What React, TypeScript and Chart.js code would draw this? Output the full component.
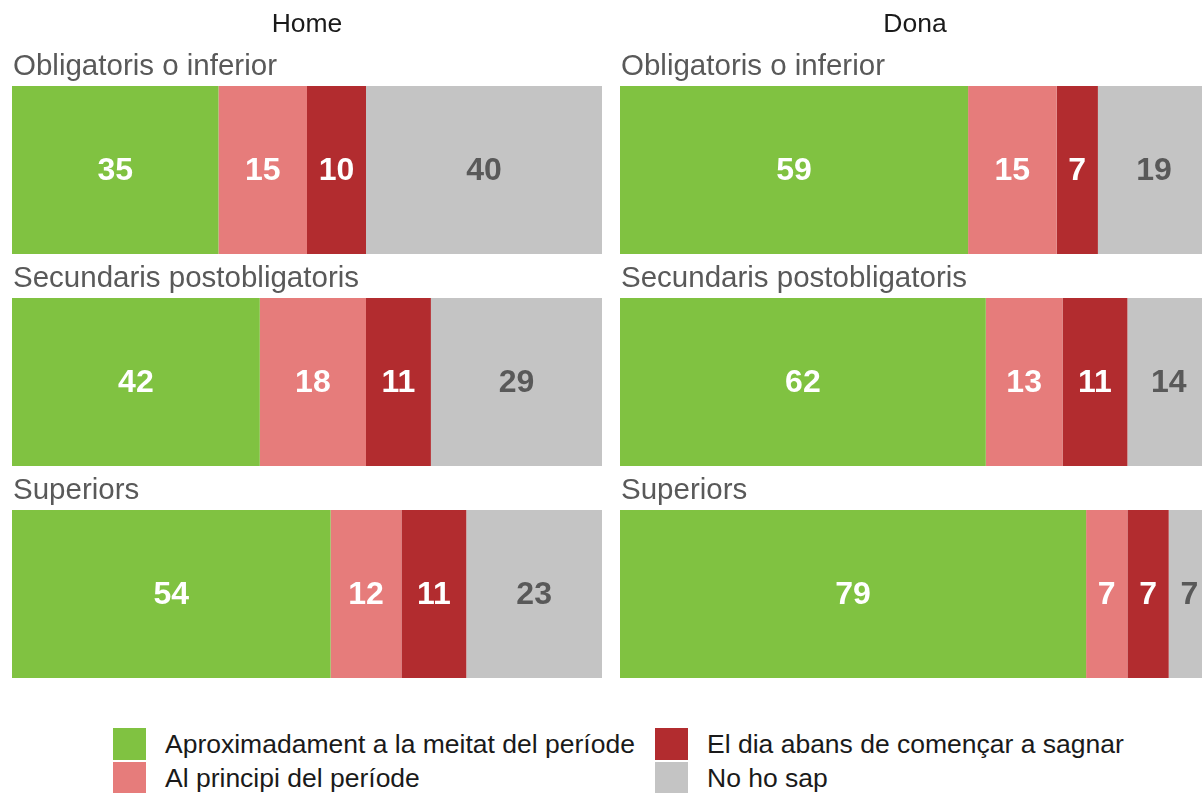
import React, { useEffect, useRef } from "react";
import { Chart, registerables } from "chart.js";

Chart.register(...registerables);

const FONT = "'Liberation Sans', Arial, Helvetica, sans-serif";

const categories = ["Obligatoris o inferior", "Secundaris postobligatoris", "Superiors"];
const seriesNames = [
  "Aproximadament a la meitat del període",
  "Al principi del període",
  "El dia abans de començar a sagnar",
  "No ho sap",
];
const seriesColors = ["#80C241", "#E67C7B", "#B22C2F", "#C4C4C4"];
const labelColors = ["#FFFFFF", "#FFFFFF", "#FFFFFF", "#595959"];

const homeMeitat = [35, 42, 54];
const homePrincipi = [15, 18, 12];
const homeDiaAbans = [10, 11, 11];
const homeNoSap = [40, 29, 23];

const donaMeitat = [59, 62, 79];
const donaPrincipi = [15, 13, 7];
const donaDiaAbans = [7, 11, 7];
const donaNoSap = [19, 14, 7];

const panelTitles = ["Home", "Dona"];

const PANEL_W = 590;
const PANEL_H = 700;

function Panel({ title, series, left }: { title: string; series: number[][]; left: number }) {
  const ref = useRef<HTMLCanvasElement | null>(null);
  useEffect(() => {
    if (!ref.current) return;
    const labelPlugin = {
      id: "panelLabels",
      afterDatasetsDraw(chart: any) {
        const ctx = chart.ctx as CanvasRenderingContext2D;
        ctx.save();
        // title
        ctx.fillStyle = "#1A1A1A";
        ctx.font = `26.5px ${FONT}`;
        ctx.textAlign = "center";
        ctx.textBaseline = "alphabetic";
        ctx.fillText(title, chart.chartArea.left + (chart.chartArea.right - chart.chartArea.left) / 2, 31.5);
        // category labels
        const meta0 = chart.getDatasetMeta(0);
        ctx.font = `29.5px ${FONT}`;
        ctx.fillStyle = "#595959";
        ctx.textAlign = "left";
        meta0.data.forEach((el: any, i: number) => {
          const top = el.y - el.height / 2;
          ctx.fillText(categories[i], chart.chartArea.left + 1, top - 11);
        });
        // value labels
        ctx.font = `bold 32px ${FONT}`;
        ctx.textAlign = "center";
        ctx.textBaseline = "middle";
        chart.data.datasets.forEach((ds: any, di: number) => {
          const meta = chart.getDatasetMeta(di);
          meta.data.forEach((el: any, i: number) => {
            const cx = (el.x + el.base) / 2;
            ctx.fillStyle = labelColors[di];
            ctx.fillText(String(ds.data[i]), cx, el.y + 1);
          });
        });
        ctx.restore();
      },
    };
    const chart = new Chart(ref.current, {
      type: "bar",
      data: {
        labels: categories,
        datasets: series.map((d, i) => ({
          label: seriesNames[i],
          data: d,
          backgroundColor: seriesColors[i],
          borderWidth: 0,
          barPercentage: 0.792,
          categoryPercentage: 1,
        })),
      },
      options: {
        indexAxis: "y",
        responsive: false,
        animation: false,
        layout: { padding: { top: 64, left: 0, right: 0, bottom: 0 } },
        scales: {
          x: { stacked: true, min: 0, max: 100, display: false },
          y: { stacked: true, display: false },
        },
        plugins: {
          legend: { display: false },
          tooltip: { enabled: false },
          title: { display: false },
        },
      },
      plugins: [labelPlugin],
    } as any);
    return () => chart.destroy();
  }, [title, series]);
  return (
    <canvas
      ref={ref}
      width={PANEL_W}
      height={PANEL_H}
      style={{ position: "absolute", left, top: 0, width: PANEL_W, height: PANEL_H }}
    />
  );
}

function LegendItem({ color, text, left, top }: { color: string; text: string; left: number; top: number }) {
  return (
    <div style={{ position: "absolute", left, top, height: 32, display: "flex", alignItems: "center" }}>
      <div style={{ width: 33, height: 32, background: color, flex: "none" }} />
      <span style={{ marginLeft: 19, font: `26.5px ${FONT}`, color: "#1A1A1A", whiteSpace: "nowrap" }}>{text}</span>
    </div>
  );
}

export default function App() {
  return (
    <div
      style={{
        position: "fixed",
        left: 0,
        top: 0,
        width: 1202,
        height: 793,
        overflow: "hidden",
        background: "#FFFFFF",
      }}
    >
      <Panel title={panelTitles[0]} series={[homeMeitat, homePrincipi, homeDiaAbans, homeNoSap]} left={12} />
      <Panel title={panelTitles[1]} series={[donaMeitat, donaPrincipi, donaDiaAbans, donaNoSap]} left={620} />
      <LegendItem color={seriesColors[0]} text={seriesNames[0]} left={113} top={728} />
      <LegendItem color={seriesColors[1]} text={seriesNames[1]} left={113} top={762} />
      <LegendItem color={seriesColors[2]} text={seriesNames[2]} left={655} top={728} />
      <LegendItem color={seriesColors[3]} text={seriesNames[3]} left={655} top={762} />
    </div>
  );
}
